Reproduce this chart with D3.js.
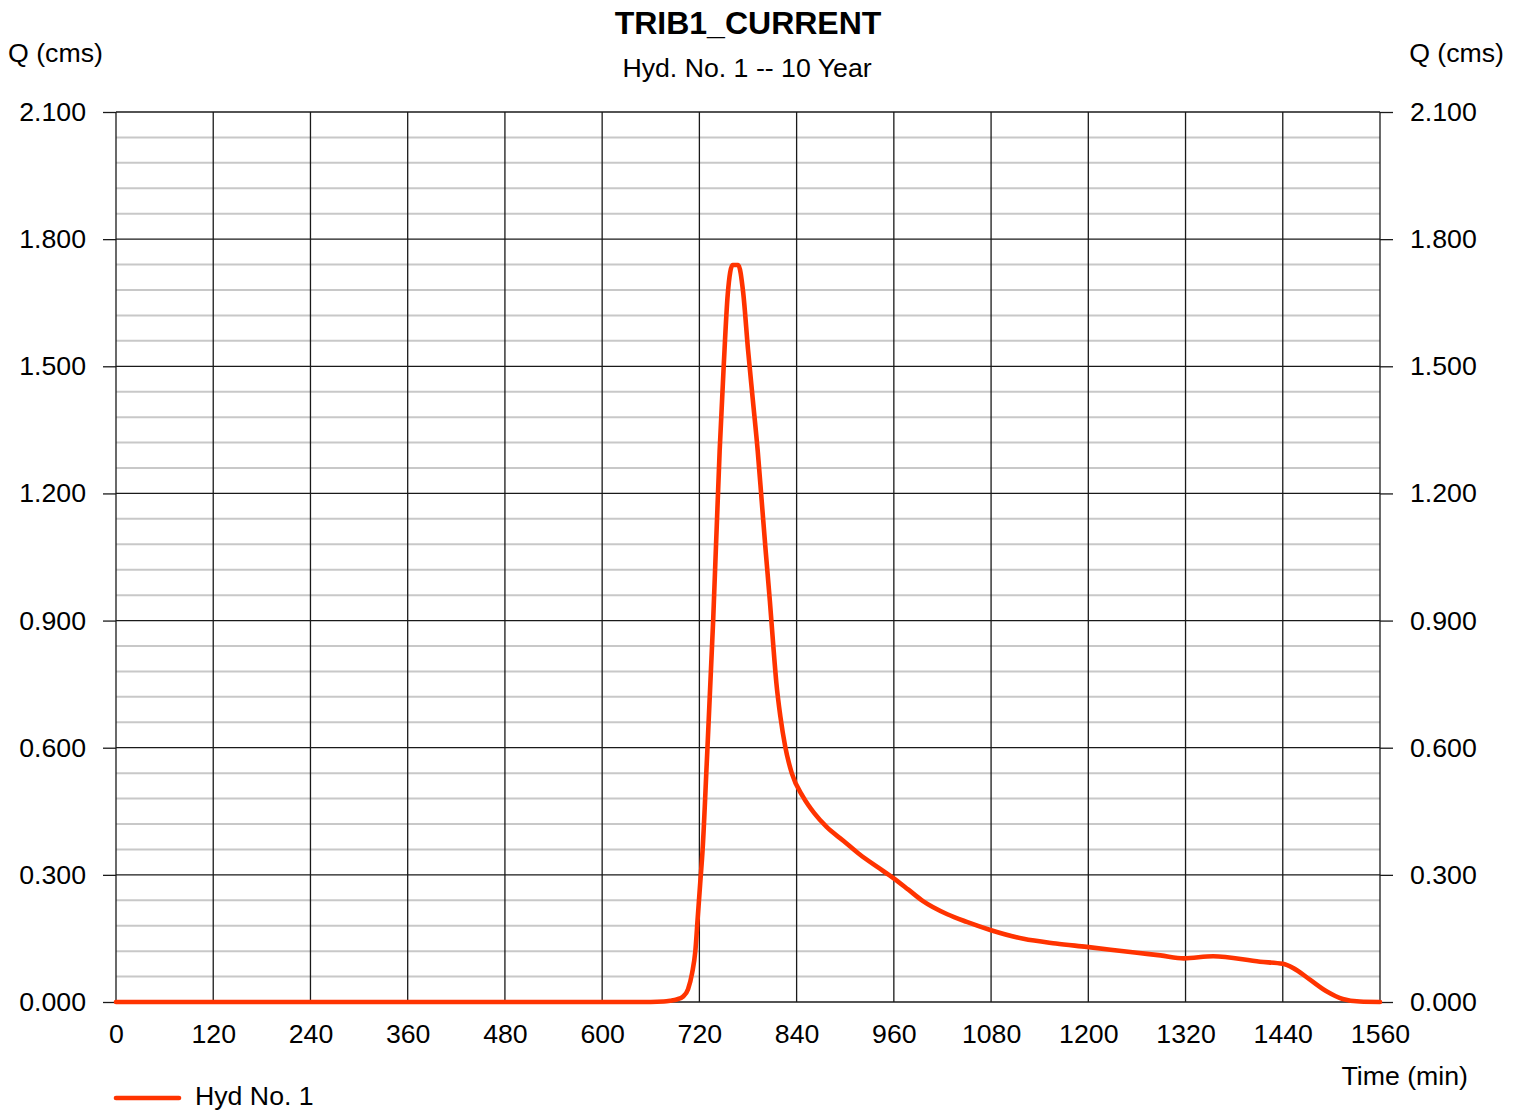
<!DOCTYPE html>
<html>
<head>
<meta charset="utf-8">
<script src="https://cdn.jsdelivr.net/npm/d3@7"></script>
<style>
  html, body { margin: 0; padding: 0; background: #ffffff; }
  svg { display: block; font-family: "Liberation Sans", Arial, sans-serif; }
</style>
</head>
<body>
<svg id="chart" width="1522" height="1112"></svg>
<script>
// Hydrograph: time (min) vs discharge Q (cms)
const timeMin = [0, 660, 676, 684, 692, 700, 706, 711, 715, 718, 721, 724, 729, 737, 745, 750, 755, 761, 768,
  774, 780, 786, 792, 797, 802, 807, 811, 815, 820, 826, 834, 848, 862, 877, 898, 918, 940, 959, 978, 996,
  1026, 1050, 1079, 1120, 1160, 1198, 1260, 1289, 1318, 1354, 1412, 1440, 1453, 1474, 1495, 1514, 1535, 1560];
const flowCms = [0, 0, 0.001, 0.003, 0.006, 0.013, 0.03, 0.068, 0.12, 0.2, 0.28, 0.36, 0.56, 0.9, 1.3, 1.5, 1.67, 1.739, 1.739,
  1.675, 1.54, 1.42, 1.30, 1.18, 1.06, 0.946, 0.846, 0.753, 0.673, 0.602, 0.54, 0.484, 0.445, 0.413, 0.380, 0.348, 0.318, 0.293, 0.265, 0.238,
  0.207, 0.189, 0.170, 0.149, 0.138, 0.130, 0.116, 0.110, 0.103, 0.108, 0.095, 0.090, 0.080, 0.052, 0.024, 0.007, 0.001, 0];

const xTicks = [0, 120, 240, 360, 480, 600, 720, 840, 960, 1080, 1200, 1320, 1440, 1560];
const yMajorTicks = [0, 0.3, 0.6, 0.9, 1.2, 1.5, 1.8, 2.1];
const yMinorTicks = [0.06, 0.12, 0.18, 0.24, 0.36, 0.42, 0.48, 0.54, 0.66, 0.72, 0.78, 0.84, 0.96, 1.02, 1.08, 1.14,
  1.26, 1.32, 1.38, 1.44, 1.56, 1.62, 1.68, 1.74, 1.86, 1.92, 1.98, 2.04];

const titleText = "TRIB1_CURRENT";
const subtitleText = "Hyd. No. 1 -- 10 Year";
const yLabel = "Q (cms)";
const xLabel = "Time (min)";
const seriesName = "Hyd No. 1";

const plotLeft = 116, plotRight = 1380, plotTop = 112, plotBottom = 1002;
const lineColor = "#ff3300";
const textSize = "26.7px";

const svg = d3.select("#chart");
const x = d3.scaleLinear().domain([0, 1560]).range([plotLeft, plotRight]);
const y = d3.scaleLinear().domain([0, 2.1]).range([plotBottom, plotTop]);

// minor horizontal grid
svg.append("g").selectAll("line").data(yMinorTicks).join("line")
  .attr("x1", plotLeft).attr("x2", plotRight)
  .attr("y1", d => y(d)).attr("y2", d => y(d))
  .attr("stroke", "#c8c8c8").attr("stroke-width", 2);

// major horizontal grid
svg.append("g").selectAll("line").data(yMajorTicks).join("line")
  .attr("x1", plotLeft).attr("x2", plotRight)
  .attr("y1", d => y(d)).attr("y2", d => y(d))
  .attr("stroke", "#1a1a1a").attr("stroke-width", 1.3);

// vertical grid
svg.append("g").selectAll("line").data(xTicks).join("line")
  .attr("x1", d => x(d)).attr("x2", d => x(d))
  .attr("y1", plotTop).attr("y2", plotBottom)
  .attr("stroke", "#1a1a1a").attr("stroke-width", 1.3);

const fmt = d3.format(".3f");

function styleAxis(g) {
  g.select(".domain").remove();
  g.selectAll(".tick line").attr("stroke", "#1a1a1a").attr("stroke-width", 1.3);
  g.selectAll(".tick text").attr("fill", "#000").style("font-size", textSize)
    .style("font-family", "'Liberation Sans', Arial, sans-serif");
}

svg.append("g").attr("transform", `translate(${plotLeft},0)`)
  .call(d3.axisLeft(y).tickValues(yMajorTicks).tickFormat(fmt).tickSize(13).tickPadding(17))
  .call(styleAxis);

svg.append("g").attr("transform", `translate(${plotRight},0)`)
  .call(d3.axisRight(y).tickValues(yMajorTicks).tickFormat(fmt).tickSize(13).tickPadding(17))
  .call(styleAxis);

svg.append("g").attr("transform", `translate(0,${plotBottom})`)
  .call(d3.axisBottom(x).tickValues(xTicks).tickFormat(d3.format("d")).tickSize(0).tickPadding(22))
  .call(styleAxis);

// hydrograph line
const pts = timeMin.map((t, i) => [t, flowCms[i]]);
svg.append("path").datum(pts)
  .attr("fill", "none")
  .attr("stroke", lineColor)
  .attr("stroke-width", 4.6)
  .attr("stroke-linejoin", "round")
  .attr("stroke-linecap", "round")
  .attr("d", d3.line().x(d => x(d[0])).y(d => y(d[1])).curve(d3.curveMonotoneX));

// titles and labels
svg.append("text").attr("x", 748).attr("y", 34).attr("text-anchor", "middle")
  .style("font-size", "32px").style("font-weight", "bold").text(titleText);
svg.append("text").attr("x", 747).attr("y", 77).attr("text-anchor", "middle")
  .style("font-size", textSize).text(subtitleText);
svg.append("text").attr("x", 8).attr("y", 62).style("font-size", textSize).text(yLabel);
svg.append("text").attr("x", 1504).attr("y", 62).attr("text-anchor", "end").style("font-size", textSize).text(yLabel);
svg.append("text").attr("x", 1468).attr("y", 1085).attr("text-anchor", "end").style("font-size", textSize).text(xLabel);

// legend
svg.append("line").attr("x1", 116).attr("x2", 179).attr("y1", 1098).attr("y2", 1098)
  .attr("stroke", lineColor).attr("stroke-width", 4.6).attr("stroke-linecap", "round");
svg.append("text").attr("x", 195).attr("y", 1105).style("font-size", textSize).text(seriesName);
</script>
</body>
</html>
